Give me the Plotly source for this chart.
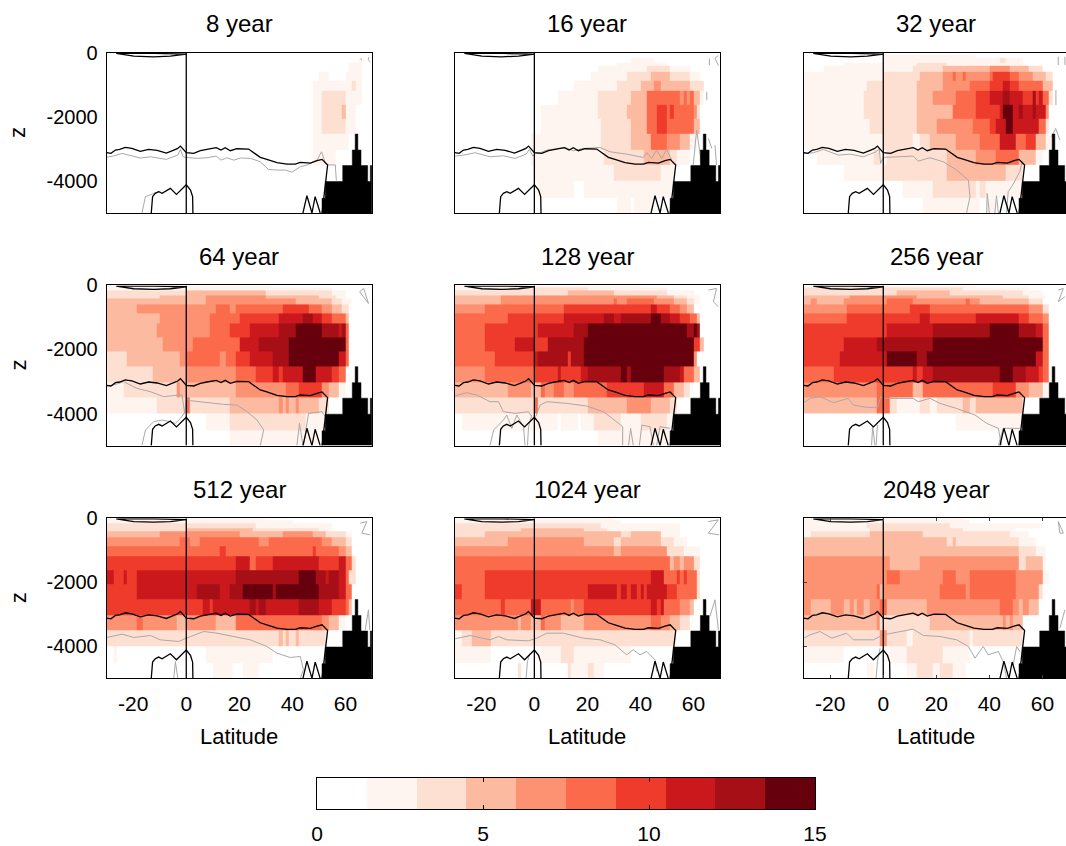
import numpy as np
import plotly.graph_objects as go

TITLES = ["8 year", "16 year", "32 year", "64 year", "128 year", "256 year", "512 year", "1024 year", "2048 year"]
REDS = ["#FFFFFF", "#FFF5F0", "#FEE0D2", "#FCBBA1", "#FC9272", "#FB6A4A", "#EF3B2C", "#CB181D", "#A50F15", "#67000D"]
BIN_EDGES = [0, 1.5, 3, 4.5, 6, 7.5, 9, 10.5, 12, 13.5, 15]
DEPTH_EDGES = [0, 50, 150, 320, 420, 600, 870, 1200, 1610, 2060, 2520, 3020, 3510, 4010, 4510, 5000]
LAT_TICKS = [-20, 0, 20, 40, 60]
Z_TICKS = [0, -2000, -4000]
CB_TICKS = [0, 5, 10, 15]

# each row, top to bottom: colour class, upper latitude, colour class, upper latitude...
P8 = [[], [],
 [0,65, 1,66],
 [0,61.6, 1,65.9],
 [0,61.6, 1,65.9],
 [0,49.9, 1,53.7, 0,60.6, 1,65.9],
 [0,47.1, 1,62.5, 2,63.7, 1,65.9],
 [0,47.1, 1,51.2, 2,60.2, 1,65.9],
 [0,47.1, 1,51.2, 2,58.7, 3,60.2, 1,63.7],
 [0,47.1, 1,51.2, 2,60.2, 1,63.7],
 [0,47.1, 1,61.2],
 [0,47.1, 1,56],
 [], [], []]
P16 = [[], [],
 [0,36.7, 1,44.9],
 [0,31.7, 1,49.9],
 [0,24, 1,43, 2,51.2, 1,58.7],
 [0,21, 1,34.8, 2,44.2, 3,51.2, 2,58.7, 1,63.1],
 [0,15.4, 1,31.7, 2,39.9, 3,45.5, 4,47.1, 3,58.9, 2,63.7],
 [0,9, 1,24.1, 2,36.3, 3,43, 5,55.6, 4,56.6, 5,58, 4,59, 5,60.3, 3,63.1, 1,64],
 [0,2.8, 1,24.1, 2,34.8, 3,43, 5,45.9, 6,49.9, 5,51.4, 6,52.7, 5,60, 4,61.2, 2,62.5],
 [0,2.2, 1,24.4, 2,36.3, 3,43, 5,45.9, 6,49.9, 5,60.6, 3,62, 1,62.5],
 [0,-1.6, 1,24.4, 2,36.7, 3,44.2, 5,49.9, 4,55.3, 3,58.7, 1,61.2],
 [0,-1.6, 1,26, 2,41.7, 3,51.8, 2,54, 1,59],
 [0,0.3, 1,29.8, 2,47.4, 1,53],
 [0,0.7, 1,15.4, 0,18.7, 1,53],
 [0,31.7, 1,36.7, 0,38, 1,39.6, 0,40, 1,45]]
P32 = [[],
 [0,0, 1,35],
 [0,0, 1,44, 2,46, 1,52],
 [0,-15, 1,12, 2,24, 1,52],
 [0,-22.6, 1,11.7, 2,22.6, 3,40, 4,48, 3,55, 2,60],
 [0,-29.5, 1,0, 2,13.2, 3,22.6, 4,26.4, 5,27.7, 4,29.5, 5,31, 4,39.5, 5,41.3, 6,47.8, 5,51.5, 4,56.6, 3,61.6, 2,64],
 [0,-29.5, 1,-6, 2,13, 3,22.6, 4,33, 5,39.6, 6,45.5, 7,47.1, 6,51.5, 5,60, 3,63.4],
 [0,-29.5, 1,-8, 2,13, 3,19, 4,27, 5,34.8, 6,40.3, 7,45, 8,48.1, 7,52.2, 6,56.4, 8,57.6, 6,59.3, 7,60.3, 5,62.6, 2,64],
 [0,-29.5, 1,-8, 2,13, 3,26.1, 5,34.8, 6,43.4, 7,45.6, 9,48.4, 7,51.5, 8,52.6, 7,56.6, 8,57.6, 7,61.3, 4,62],
 [0,-29.5, 1,-5, 2,13, 3,20, 4,33.3, 5,39.6, 6,42.8, 7,46.7, 9,48.8, 7,59, 5,61, 2,62],
 [0,-29.5, 1,0, 2,11.6, 1,13.5, 2,17, 3,26.9, 4,36.4, 5,44, 7,49.8, 5,53.7, 6,57.4, 3,61.5, 1,64],
 [0,-24.5, 1,-3.7, 2,-1, 1,1.5, 2,24, 3,34.4, 4,42.1, 5,50.8, 3,57, 1,60],
 [0,-15, 1,0, 2,24, 3,45.9, 2,52.8],
 [0,7.6, 1,18.9, 2,34.6, 1,36.4, 2,38.3, 1,53],
 [0,15, 1,36.4, 0,38.3, 1,42.7]]
P64 = [[1,33],
 [1,55],
 [2,0, 3,30, 2,55, 1,60],
 [2,-10, 3,8, 4,30, 3,50, 2,56, 1,60],
 [3,8, 4,41, 3,55, 2,59, 1,63],
 [3,-18.6, 4,11.6, 5,16.6, 4,18.5, 5,36, 6,46.8, 5,51.2, 4,54.9, 3,58.7, 2,61.8],
 [3,-10.4, 4,8.4, 5,20.4, 6,34.8, 7,44.2, 8,47, 7,51.2, 6,54.9, 5,60.6, 3,61.8],
 [3,-11.7, 4,8.4, 5,16.6, 6,24.1, 7,34.8, 8,41.1, 9,51.2, 8,57.8, 7,59.3, 8,60.6, 5,61.8],
 [3,-8.5, 4,2.2, 5,20.4, 7,27.9, 8,39.2, 9,60, 8,60.3, 5,61.8],
 [2,-22.3, 3,-2.2, 4,0.3, 5,12.8, 4,14.7, 5,18.5, 6,24.1, 7,33, 8,39.2, 9,58, 7,60.3, 5,61.8],
 [2,-12.9, 3,0.3, 4,18.5, 5,26, 6,33, 7,34.8, 6,36.1, 7,44.2, 9,48.3, 7,54.9, 6,57.8, 5,60.6],
 [1,-24.2, 2,-3.7, 4,-2, 3,18.5, 4,37, 5,42.7, 6,51.2, 4,54.3, 3,58, 1,60],
 [1,-11.7, 2,-0.4, 5,1.5, 2,16.6, 3,34.8, 4,36, 3,38, 4,39.2, 3,40.7, 4,42.4, 3,50.5, 2,53.7],
 [0,7.4, 1,16.6, 2,45.5, 1,52.4],
 [0,16.6, 1,50]]
P128 = [[1,40],
 [1,-10, 2,20, 1,50],
 [2,12, 3,30, 2,50, 1,60],
 [3,-13, 4,46, 3,52, 2,58, 1,62],
 [3,-13, 4,29.8, 5,31.5, 4,35, 5,45, 4,52, 3,57, 2,60, 1,63],
 [4,-18.6, 5,11.6, 6,44.2, 7,46.8, 6,51.2, 5,54.9, 4,58, 3,60],
 [5,-10.4, 6,11.6, 7,26, 8,29.8, 7,33, 8,44.2, 9,47, 8,51.8, 7,55.6, 6,59.3, 5,61.8, 3,62.8],
 [5,-18.6, 6,1, 7,15, 8,20.5, 9,58, 8,60, 9,60.7, 8,62, 5,63],
 [5,-18.6, 6,-7.3, 7,0.3, 6,4.7, 8,19, 9,60.6, 6,62.4, 3,64],
 [5,-14.8, 6,-0.6, 7,1.6, 8,12.8, 6,14.1, 8,18.8, 9,60, 4,61.5],
 [4,-18.6, 5,-0.6, 6,9, 7,10, 6,17, 7,20.5, 8,33, 9,34.5, 8,35.9, 9,49, 8,54.4, 7,56.8, 5,60.5, 3,62],
 [3,-10, 4,-1, 3,2, 5,4, 4,7, 5,11.6, 4,14.7, 5,28, 6,41, 7,48.6, 5,52.4, 3,56, 2,59],
 [2,0.3, 5,1.5, 2,20.4, 3,34.8, 4,44.2, 3,51.2, 2,53.7],
 [0,-27.5, 1,9, 0,10, 1,16, 0,17.5, 1,23, 2,32, 1,40, 2,50, 1,53],
 [0,24, 1,51]]
P256 = [[1,35],
 [2,30, 1,55],
 [2,5, 3,25, 2,52, 1,60],
 [3,-13, 4,13, 3,45, 2,55, 1,61],
 [3,-27.6, 4,-25.6, 3,-14.5, 4,1, 5,11, 4,31, 5,32, 4,36, 3,55, 2,60],
 [4,-13.2, 5,10, 6,17, 5,55, 4,60.5, 2,62],
 [5,-13.2, 6,13.6, 7,17, 6,34.8, 7,51, 6,55, 5,60.5, 4,62],
 [6,1.3, 7,18.9, 8,39.6, 9,51.3, 8,57.8, 7,60, 5,62],
 [6,-15, 7,-2.4, 8,18.9, 9,60, 7,60.6, 5,63],
 [6,-16.7, 7,1.6, 9,13, 8,16.7, 9,58, 7,60, 5,62],
 [5,-18.8, 6,11, 7,13, 6,14.8, 7,18.9, 8,44.2, 9,48.8, 8,54, 7,59, 6,60.5, 5,62],
 [4,-3, 5,11.3, 3,15.2, 5,41.5, 6,50.3, 4,54.7, 3,60, 1,62],
 [3,-2, 5,2.5, 2,4.4, 1,13.2, 2,17.6, 1,20, 2,30, 3,32, 2,34.6, 3,52, 2,53],
 [0,27, 1,52],
 []]
P512 = [[1,30],
 [1,40],
 [2,26.7, 1,55],
 [2,0, 3,25, 2,50, 1,55],
 [3,-9.5, 4,20, 3,36, 4,47.4, 3,52, 2,60, 1,62],
 [4,-2.6, 5,1.2, 4,5, 5,27.3, 4,31, 5,51.2, 4,55, 3,60, 2,62],
 [5,13, 6,15, 5,47, 6,48.8, 5,57, 4,60, 3,63],
 [6,18.8, 7,24.1, 5,26, 6,33, 7,50, 6,58, 7,60, 5,62.6, 2,64],
 [7,-28, 6,-24.2, 7,-22.6, 6,-18.8, 7,18.5, 8,42.7, 9,48.3, 8,52.4, 7,54, 8,57.8, 7,60, 5,61.2, 2,64],
 [6,-18.8, 7,3.6, 8,13, 7,16.7, 8,21, 9,32, 8,33.5, 9,49.6, 8,57, 7,60, 5,62],
 [6,6.6, 7,8.5, 6,10, 7,24, 8,26, 7,28, 8,30, 7,37, 8,38, 7,42.5, 8,49.6, 7,55, 6,59.5, 5,61, 3,62],
 [4,-18.6, 5,-16.7, 4,-3.2, 3,0.3, 4,11.6, 3,18.5, 5,51, 4,54, 3,57, 1,60],
 [2,35, 3,36.4, 2,38, 3,39, 2,41, 3,43, 2,52, 1,53],
 [0,-28, 1,-26, 0,8, 1,33],
 [0,9.7, 1,17, 0,21, 1,27]]
P1024 = [[1,30],
 [1,32],
 [2,25, 1,55],
 [2,-5, 3,19, 2,28, 1,55],
 [2,-18.6, 3,32, 2,36, 3,48, 1,55],
 [3,-10.4, 4,18.5, 3,30.4, 2,33, 3,48, 2,53, 1,58],
 [4,30, 3,33, 4,50, 2,56, 1,63],
 [5,51.2, 3,52.5, 4,55, 3,56, 4,60.6, 2,62],
 [5,-18.6, 6,44.2, 7,48.6, 5,54, 6,55.2, 5,56.6, 6,58, 5,61.2, 2,63],
 [6,-28, 5,-18.6, 6,20.6, 7,31, 6,32.8, 7,34.8, 6,36.3, 7,38.2, 6,39.4, 7,41.2, 6,43, 7,50, 6,54, 5,61, 2,62.5],
 [5,-12.9, 6,-11.4, 5,-1.6, 7,2, 5,13.4, 4,15.1, 5,18.5, 6,44.2, 7,46, 6,47.4, 7,49, 5,55.6, 4,58.2, 3,60],
 [4,-6, 3,-5, 4,-1.6, 3,2, 5,4, 4,10.3, 3,18.5, 4,44.2, 5,47.4, 4,51, 3,55, 2,59],
 [1,-28, 2,-24.2, 3,-16.7, 2,52.4, 1,53.6],
 [1,-16.7, 0,3, 1,9.4, 2,15.4, 1,36],
 [0,-5.9, 2,-4.5, 0,12, 2,13.5, 1,20.4, 2,22.3, 1,26]]
P2048 = [[1,30],
 [1,32],
 [1,-6, 2,25, 1,60],
 [1,-5, 2,30, 1,50],
 [1,-27, 2,-5, 3,15, 2,48, 1,55],
 [3,24, 2,26.5, 3,27.6, 2,51.5, 1,57],
 [3,51, 2,57, 1,61],
 [4,1.9, 3,13.2, 4,50.9, 2,54, 3,60.3, 1,61],
 [4,1.5, 5,6.4, 4,22.4, 5,27.7, 4,33, 5,50, 4,60, 1,62],
 [4,-2.8, 5,-1.2, 3,0.5, 4,20.8, 5,31.6, 4,33, 5,50, 4,58.5, 2,60],
 [4,-26.9, 3,-20.3, 4,-15, 3,-13, 4,-11.2, 3,-10, 4,-7.5, 3,-5.5, 4,-1.5, 5,1.4, 3,16.6, 4,44.2, 5,48.4, 4,51.5, 3,52.8, 4,55.3, 3,59],
 [3,-3, 4,-1, 2,17, 3,44.6, 4,46, 3,47, 4,48.8, 3,52, 1,53],
 [2,-1.2, 4,0.7, 2,8.8, 1,11.6, 2,32.9, 1,34.1, 2,52.2],
 [1,-15, 0,2.2, 1,8.8, 2,22.6, 1,32],
 [0,-6, 1,-3.7, 0,8.5, 1,12, 2,19, 1,20.7, 2,26.4, 1,31.4]]
PANELS = [P8, P16, P32, P64, P128, P256, P512, P1024, P2048]

# grey contour, one per panel: (latitude, depth), None breaks the line
G8 = [(-30,3260),(-27.4,3220),(-24.2,3140),(-21,3200),(-17.3,3285),(-13.5,3245),(-7.5,3326),(-3.2,3190),(-2.2,3015),(-1.2,3245),(0,3265),(4.1,3295),(7.8,3275),(11.3,3225),(13.1,3350),(15.3,3275),(17.9,3350),(20.4,3285),(24.2,3295),(27.9,3400),(31,3640),(34.2,3660),(37.4,3660),(39.9,3725),(43,3555),(45.5,3505),(48.1,3400),(49.3,3350),(51,3090),(52.5,3450),(53.3,3500),(56.2,3500),(56.6,3990),None,
      (-16.7,5000),(-15.4,4490),(-12.3,4390),(-9.7,4310),None,(65.9,170),(66,230),None,(68.9,130),(68.6,220),(69.5,290)]
G16 = [(-30,3224),(-26.7,3193),(-22.3,3120),(-16.7,3245),(-11.7,3214),(-7.3,3297),(-3.1,3162),(-1.9,3016),(-0.6,3224),(0.5,3141),(2.2,3120),(4.7,3037),(11.6,2954),(14.7,3058),(18.5,2985),(24.8,2954),(28.5,3089),(34.8,3162),(41.1,3266),(42.4,3120),(44.2,3297),(46.1,3037),(48,3297),(49.9,3016),(51.8,3349),None,
       (59.9,3505),(61.2,2413),(63.1,3505),None,(65.6,2673),(66.9,2985),None,(68.1,2881),(68.7,3505),None,(65,1217),(65,1477),None,(66,177),(66,385),None,(69.4,85),(68.1,170),(69.4,400)]
G32 = [(-30,3141),(-26.4,3120),(-22.6,3016),(-16.9,3193),(-12.5,3162),(-7.5,3245),(-2.7,3089),(-1.5,2985),(-1,3453),(0,3266),(11.3,3224),(13.2,3380),(17.6,3276),(22.6,3400),(27.7,3661),(32.1,3973),(32.7,4493),(31.4,5000),None,
       (39,5000),(39.2,4389),(40,5000),None,(42.1,5000),(42.7,4462),(43.4,5000),None,(46.5,5000),(47.1,4337),(48.4,4181),(51.5,3713),(52.2,3453),None,(63.5,2621),(65,2361),(66.6,2725),None,(65.1,1165),(65.1,1633),None,(66,125),(66,385),None,(68.5,125),(68.5,385)]
G64 = [(-30,3141),(-27.4,3110),(-23.6,3006),(-18.6,3214),(-13.5,3318),(-8.5,3474),(-3.2,3422),(-1.6,3422),(-0.6,3994),(0,3526),(1.5,3598),(7.8,3661),(14.1,3713),(19.1,3734),(22.9,3942),(26.7,4202),(29.2,4514),(27.9,5000),None,
       (-16.7,5000),(-15.4,4514),(-12.3,4254),(-9.1,4202),(-6,4254),(-4.1,4306),(-2.2,4150),(-0.4,3942),None,(41.7,5000),(42.7,4306),(44,5000),None,(44.2,5000),(46.1,3994),(51.2,3942),(52.4,4098),None,(65.4,198),(66.9,94),(68.7,562),(65.4,198)]
G128 = [(-30,3453),(-25.5,3349),(-21.7,3422),(-16.7,3630),(-13.5,3630),(-11.7,3942),(-7.3,3994),(-2.2,3942),(-1,4098),None,(0.5,4098),(2.2,3734),(4.7,3630),(12.2,3682),(19.7,3765),(26,3942),(31,4254),(33.3,4410),(33.3,5000),None,
        (-16.7,5000),(-15.4,4514),(-13.5,4358),(-11.7,4202),(-10.4,4046),(-8.5,4462),(-6.6,4046),(-4.1,4410),(-3.5,5000),None,(-2.6,5000),(-2.2,4410),(-1,4046),None,
        (35.5,5000),(36.3,4462),(37.3,5000),None,(39.6,5000),(40.5,4358),(43.6,4410),(44.9,5000),None,(46.1,5000),(47.4,4410),(51.2,4462),None,(65.6,146),(68.7,94),(67.5,510),(69.4,666)]
G256 = [(-30,3661),(-27.6,3526),(-23.8,3474),(-18.8,3661),(-13.2,3526),(-11.3,3734),(-6.3,3806),(-2.2,3806),(-1,3474),(0.7,3526),(11.3,3526),(13.2,3630),(17.6,3526),(21.4,3682),(27.7,3842),(34.6,4046),(39,4306),(43.4,4462),(44.6,5000),None,
        (-4.4,5000),(-4,4410),(-3.1,5000),None,(-2.7,5000),(-2.2,4358),None,(43.4,5000),(45.2,4462),(51.5,4462),None,(66,146),(67.9,94),(66,510),(68.5,354)]
G512 = [(-30,3723),(-24.2,3619),(-19.8,3723),(-13.5,3661),(-9.8,3796),(-2.9,3848),(0,3744),(6.6,3536),(11.6,3588),(17.9,3692),(24.1,3796),(30.4,4004),(34.2,4212),(39.2,4347),(43,4316),(44.2,4732),(43,4992),None,
        (-4.7,4992),(-4.1,4472),(-3.2,4992),None,(65.6,156),(68.1,104),(66.2,468),(69.4,520),None,(67.5,3484),(68.7,2860),(69.2,3484)]
G1024 = [(-30,3765),(-24.2,3661),(-16.7,3796),(-13.5,3692),(-10.4,3796),(-2.2,3827),(0.9,3744),(4.7,3588),(11,3588),(18.5,3744),(24.8,3796),(30.4,3952),(34.8,4264),(37.3,4108),(39.8,4264),(42.4,4160),(45.5,4420),(46.1,4784),None,
         (-3.1,4992),(-2.6,4472),(-1.6,4212),None,(66.2,3068),(68.1,2548),(69.4,3484),None,(65.6,104),(69.4,52),(65.6,468),(69.7,520)]
G2048 = [(-30,3744),(-27.6,3640),(-23.8,3536),(-19.4,3744),(-13.8,3588),(-11.3,3796),(-3.7,3796),(0,3640),(11.3,3463),(15.1,3661),(21.4,3692),(27.7,3796),(32.1,4004),(34.6,4368),(37.7,4004),(39.6,4264),(43.4,4160),(45.2,4472),(46.5,4992),None,
         (49,4576),(50.3,4004),(51.5,4160),None,(-2.7,4992),(-2.2,4472),(-1.2,4056),None,(66,104),(67.9,468),(66.6,468),(66,104),None,(66.6,3432),(68.5,2860)]
GREYS = [G8, G16, G32, G64, G128, G256, G512, G1024, G2048]

# black outlines common to all panels
CONTOUR = [(-30,3118),(-28.4,3139),(-26.7,3035),(-25.1,3015),(-23,2952),(-20.5,2983),(-17.3,3077),(-14.2,3015),(-11,3046),(-7.5,3129),(-4.7,3035),(-3.2,2983),(-2.2,2911),(-1.2,3015),(0,3118),(2.8,3139),(5.3,3056),(7.8,3015),(11.3,2963),(13.1,3035),(14.7,2963),(16.6,3056),(19.1,2994),(23.5,3004),(25.4,3108),(27.9,3264),(30.4,3326),(34.2,3430),(38,3472),(41.1,3472),(43,3420),(46.8,3441),(49.3,3368),(51.2,3326),(53.3,3503),(51.2,5000)]
EQUATOR = [(0,0),(0,5000)]
LENS = [(-26.4,20),(-19.8,104),(-12.3,125),(-6,104),(0,42),(-12,20),(-26.4,20)]
RIDGE = [(-13.2,5000),(-12.7,4490),(-11.7,4387),(-10.4,4335),(-9.1,4387),(-7.9,4335),(-6,4231),(-3.7,4418),(-2.2,4283),(0,4116),(1.6,4283),(2.4,4490),(2.5,5000)]
ZIGZAG = [(44,5000),(45.5,4460),(47.4,5000),(48.6,4490),(50.5,5000)]
LAND = [(51.2,5000),(51.2,4540),(52.4,4540),(52.4,4020),(59,4020),(59,3520),(62.6,3520),(62.6,3035),(63.7,3035),(63.7,2536),(64.7,2536),(64.7,3035),(65.9,3035),(65.9,3520),(68.4,3520),(68.4,4020),(69.4,4020),(69.4,3520),(70,3520),(70,5000)]

W, H = 1066, 846
LAT_EDGES = np.arange(-30, 70.01, 1.25)
LAT_MID = (LAT_EDGES[:-1] + LAT_EDGES[1:]) / 2
mids = (np.array(BIN_EDGES[:-1]) + np.array(BIN_EDGES[1:])) / 2

def expand(panel):
    grid = np.zeros((len(panel), len(LAT_MID)))
    for r, row in enumerate(panel):
        for c, lat in enumerate(LAT_MID):
            for k in range(0, len(row), 2):
                if lat <= row[k + 1]:
                    grid[r, c] = mids[row[k]]
                    break
    return grid

def xy(points):
    xs, ys = [], []
    for p in points:
        if p is None:
            xs.append(None); ys.append(None)
        else:
            xs.append(p[0]); ys.append(-p[1])
    return xs, ys

scale = []
for i, c in enumerate(REDS):
    scale += [[BIN_EDGES[i] / 15, c], [BIN_EDGES[i + 1] / 15, c]]

fig = go.Figure()
COL_LEFT = [106.7, 454.8, 803.7]
ROW_TOP = [52.8, 285.4, 518.2]
PW, PH = 265.2, 160.2
FONT = dict(family="Liberation Sans", size=20, color="black")
TITLE_FONT = dict(family="Liberation Sans", size=24, color="black")
LABEL_FONT = dict(family="Liberation Sans", size=22, color="black")
TICK_X_FONT = dict(family="Liberation Sans", size=21, color="black")
annots = []
outlines = CONTOUR + [None] + EQUATOR + [None] + LENS + [None] + RIDGE + [None] + ZIGZAG

for i in range(9):
    r, c = i // 3, i % 3
    sfx = "" if i == 0 else str(i + 1)
    xa, ya = "x" + sfx, "y" + sfx
    fig.add_trace(go.Heatmap(x=LAT_EDGES, y=-np.array(DEPTH_EDGES), z=expand(PANELS[i]), zmin=0, zmax=15,
                             colorscale=scale, showscale=False, xaxis=xa, yaxis=ya, hoverinfo="skip"))
    gx, gy = xy(GREYS[i])
    fig.add_trace(go.Scatter(x=gx, y=gy, mode="lines", line=dict(color="#A8A8A8", width=1), xaxis=xa, yaxis=ya, showlegend=False))
    lx, ly = xy(LAND)
    fig.add_trace(go.Scatter(x=lx, y=ly, mode="lines", fill="toself", fillcolor="black", line=dict(color="black", width=0.5), xaxis=xa, yaxis=ya, showlegend=False))
    bx, by = xy(outlines)
    fig.add_trace(go.Scatter(x=bx, y=by, mode="lines", line=dict(color="black", width=1.3), xaxis=xa, yaxis=ya, showlegend=False))

    x0 = COL_LEFT[c]
    x1 = min(x0 + PW, W)
    lat_max = -30 + (x1 - x0) / PW * 100
    last = i == 8
    fig.update_layout({
        "xaxis" + sfx: dict(domain=[x0 / W, x1 / W], range=[-30, lat_max], anchor=ya, tickmode="array", tickvals=LAT_TICKS, automargin=False,
                            ticktext=[str(v) for v in LAT_TICKS], showticklabels=r == 2, tickfont=TICK_X_FONT, showgrid=False, zeroline=False,
                            showline=True, linecolor="black", linewidth=1, mirror="ticks" if last else True,
                            ticks="inside" if last else "", ticklen=3, tickcolor="#444", ticklabelstandoff=6),
        "yaxis" + sfx: dict(domain=[1 - (ROW_TOP[r] + PH) / H, 1 - ROW_TOP[r] / H], range=[-5000, 0], anchor=xa, tickmode="array", tickvals=Z_TICKS, automargin=False,
                            ticktext=[str(v) for v in Z_TICKS], showticklabels=c == 0, tickfont=FONT, showgrid=False, zeroline=False,
                            showline=True, linecolor="black", linewidth=1, mirror=c != 2,
                            ticks="inside" if last else "", ticklen=3, tickcolor="#444", ticklabelstandoff=4),
    })
    cx = (x0 + PW / 2) / W
    annots.append(dict(text=TITLES[i], x=cx, y=1 - (ROW_TOP[r] - 29) / H, xref="paper", yref="paper", showarrow=False, font=TITLE_FONT, xanchor="center", yanchor="middle"))
    if r == 2:
        annots.append(dict(text="Latitude", x=cx, y=1 - 736 / H, xref="paper", yref="paper", showarrow=False, font=LABEL_FONT, xanchor="center", yanchor="middle"))
    if c == 0:
        annots.append(dict(text="z", x=18 / W, y=1 - (ROW_TOP[r] + PH / 2) / H, xref="paper", yref="paper", showarrow=False, font=LABEL_FONT, textangle=-90, xanchor="center", yanchor="middle"))

# colour bar
fig.add_trace(go.Heatmap(x=BIN_EDGES, y=[0, 1], z=[list(mids)], zmin=0, zmax=15, colorscale=scale, showscale=False,
                         xaxis="x10", yaxis="y10", hoverinfo="skip"))
fig.update_layout(
    xaxis10=dict(domain=[317 / W, 815 / W], range=[0, 15], anchor="y10", tickmode="array", tickvals=CB_TICKS, ticktext=[str(v) for v in CB_TICKS], automargin=False,
                 tickfont=TICK_X_FONT, ticks="inside", ticklen=4, tickcolor="black", showline=True, linecolor="black", linewidth=1, mirror="ticks",
                 showgrid=False, zeroline=False, ticklabelstandoff=6),
    yaxis10=dict(domain=[1 - 809 / H, 1 - 778 / H], range=[0, 1], anchor="x10", showticklabels=False, ticks="", showline=True, linecolor="black", automargin=False,
                 linewidth=1, mirror=True, showgrid=False, zeroline=False),
    width=W, height=H, margin=dict(l=0, r=0, t=0, b=0, autoexpand=False), autosize=False, paper_bgcolor="white", plot_bgcolor="white",
    showlegend=False, annotations=annots, font=FONT,
)
fig.write_html("out.html", config={"displayModeBar": False, "responsive": False}, post_script="document.body.style.margin='0';")
